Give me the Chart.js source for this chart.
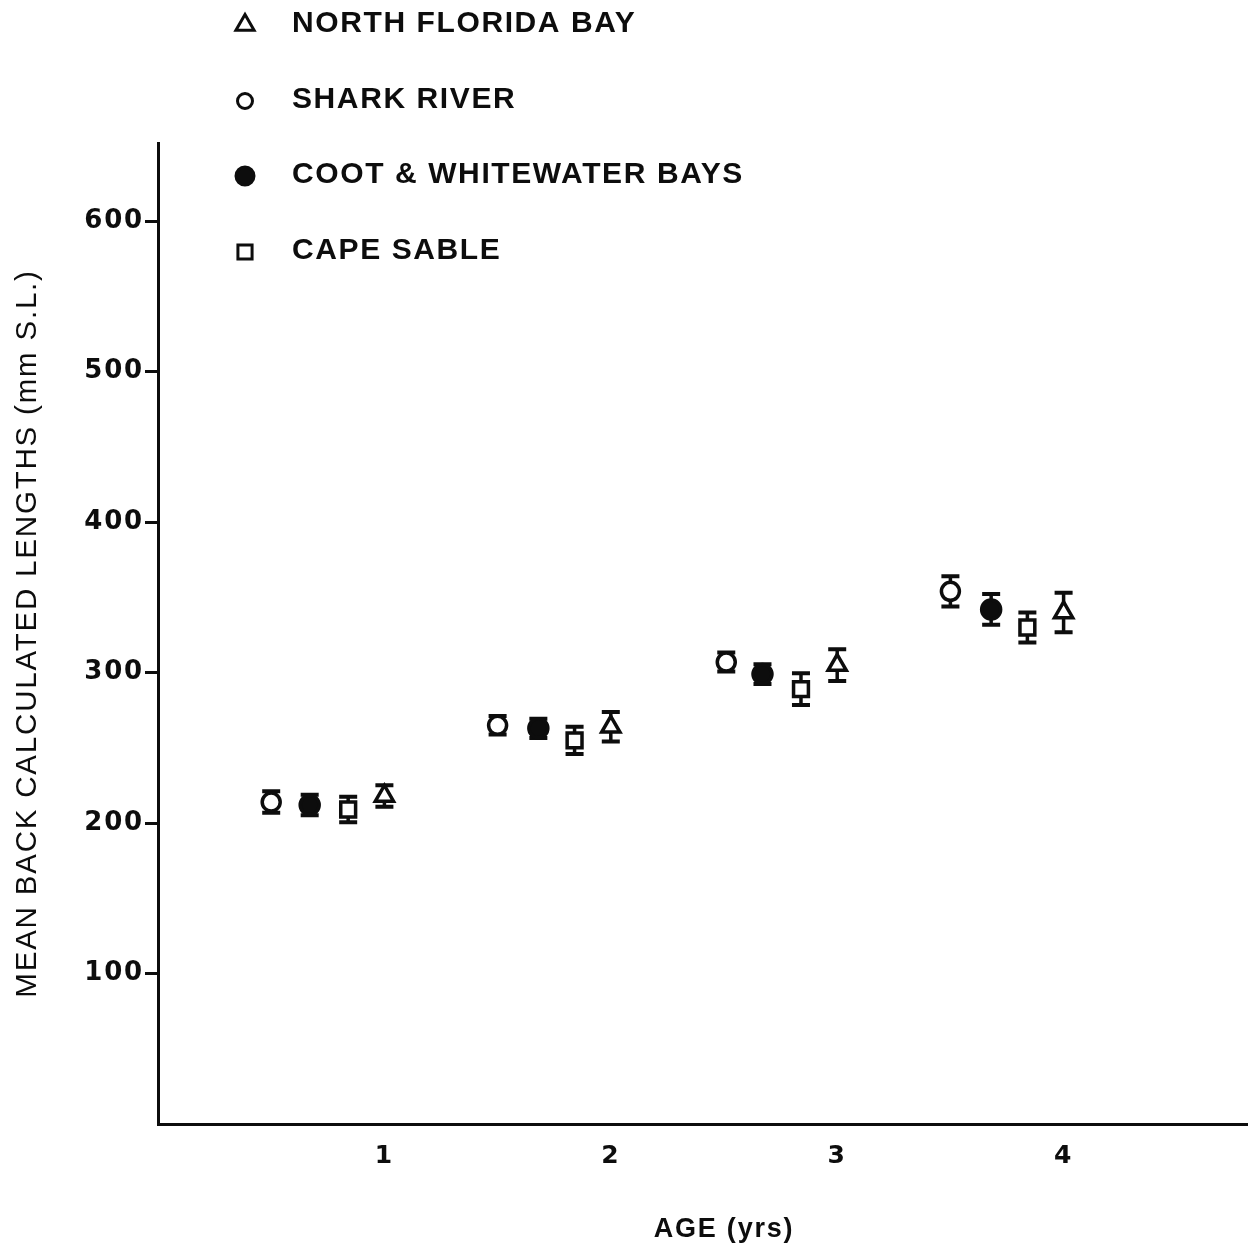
<!DOCTYPE html>
<html>
<head>
<meta charset="utf-8">
<script src="https://cdn.jsdelivr.net/npm/chart.js@4/dist/chart.umd.min.js"></script>
<style>
  html, body { margin: 0; padding: 0; background: #fff; overflow: hidden; }
  canvas { display: block; }
</style>
</head>
<body>
<canvas id="c" width="1304" height="1249"></canvas>
<script>
// Mean back-calculated standard lengths by age, four sampling areas
const ageTicks = [1, 2, 3, 4];

const sharkAge = [0.50, 1.50, 2.51, 3.50];
const sharkLen = [214, 265, 307, 354];
const sharkErr = [7.2, 6.1, 6.3, 10.0];

const cootAge = [0.67, 1.68, 2.67, 3.68];
const cootLen = [212, 263, 299, 342];
const cootErr = [6.8, 6.4, 6.5, 10.2];

const capeAge = [0.84, 1.84, 2.84, 3.84];
const capeLen = [209, 255, 289, 330];
const capeErr = [8.5, 9.1, 10.5, 10.0];

const nfbAge = [1.00, 2.00, 3.00, 4.00];
const nfbLen = [218, 264, 305, 340];
const nfbErr = [7.2, 9.8, 10.6, 13.1];

const INK = '#0d0d0d';

function pts(xs, ys) { return xs.map((x, i) => ({ x: x, y: ys[i] })); }

const datasets = [
  { label: 'NORTH FLORIDA BAY', data: pts(nfbAge, nfbLen), err: nfbErr,
    pointStyle: 'triangle', pointRadius: 10.5, backgroundColor: '#fff',
    legend: { radius: 10.5, y: 25 } },
  { label: 'SHARK RIVER', data: pts(sharkAge, sharkLen), err: sharkErr,
    pointStyle: 'circle', pointRadius: 9, backgroundColor: '#fff',
    legend: { radius: 7.5, y: 101 } },
  { label: 'COOT & WHITEWATER BAYS', data: pts(cootAge, cootLen), err: cootErr,
    pointStyle: 'circle', pointRadius: 9.5, backgroundColor: INK,
    legend: { radius: 9, y: 176 } },
  { label: 'CAPE SABLE', data: pts(capeAge, capeLen), err: capeErr,
    pointStyle: 'rect', pointRadius: 10.5, backgroundColor: '#fff',
    legend: { radius: 10, y: 252 } }
].map(d => Object.assign(d, {
  borderColor: INK, pointBorderWidth: 3.5, pointHoverRadius: d.pointRadius,
  pointBackgroundColor: d.backgroundColor, pointBorderColor: INK, showLine: false
}));

// Slightly spaced lettering throughout
const spacing = {
  id: 'spacing',
  beforeUpdate(chart) { chart.ctx.letterSpacing = '1.8px'; },
  beforeDraw(chart) { chart.ctx.letterSpacing = '1.8px'; }
};

// Vertical error bars with caps, drawn beneath the markers
const errorBars = {
  id: 'errorBars',
  beforeDatasetsDraw(chart) {
    const ctx = chart.ctx;
    const ys = chart.scales.y;
    ctx.save();
    ctx.strokeStyle = INK;
    chart.data.datasets.forEach((ds, i) => {
      const meta = chart.getDatasetMeta(i);
      meta.data.forEach((el, j) => {
        const v = ds.data[j].y, e = ds.err[j];
        const top = ys.getPixelForValue(v + e);
        const bot = ys.getPixelForValue(v - e);
        const x = el.x, half = 9;
        ctx.lineWidth = 3.5;
        ctx.beginPath();
        ctx.moveTo(x, top); ctx.lineTo(x, bot);
        ctx.stroke();
        ctx.lineWidth = 4;
        ctx.beginPath();
        ctx.moveTo(x - half, top); ctx.lineTo(x + half, top);
        ctx.moveTo(x - half, bot); ctx.lineTo(x + half, bot);
        ctx.stroke();
      });
    });
    ctx.restore();
  }
};

// Key in the upper left: symbol then area name
const keyBlock = {
  id: 'keyBlock',
  afterDraw(chart) {
    const ctx = chart.ctx;
    ctx.save();
    ctx.letterSpacing = '1.6px';
    ctx.font = 'bold 30px "Liberation Sans", Arial, sans-serif';
    ctx.textAlign = 'left';
    ctx.textBaseline = 'middle';
    chart.data.datasets.forEach(ds => {
      ctx.fillStyle = ds.backgroundColor;
      ctx.strokeStyle = INK;
      ctx.lineWidth = 3;
      Chart.helpers.drawPoint(ctx, {
        pointStyle: ds.pointStyle, radius: ds.legend.radius,
        borderWidth: 3, rotation: 0
      }, 245, ds.legend.y);
      ctx.fillStyle = INK;
      ctx.fillText(ds.label, 292, ds.legend.y - 1);
    });
    ctx.restore();
  }
};

new Chart(document.getElementById('c'), {
  type: 'scatter',
  data: { datasets: datasets },
  plugins: [spacing, errorBars, keyBlock],
  options: {
    responsive: false,
    animation: false,
    events: [],
    layout: { padding: { top: 143, right: 2, bottom: 0, left: 0 } },
    plugins: { legend: { display: false }, tooltip: { enabled: false } },
    scales: {
      x: {
        type: 'linear', min: 0, max: 5,
        afterFit(s) { s.height = 125; },
        afterBuildTicks(s) { s.ticks = ageTicks.map(v => ({ value: v })); },
        border: { display: true, color: INK, width: 3 },
        grid: { drawOnChartArea: false, drawTicks: false },
        ticks: { color: INK, padding: 17,
          font: { family: '"DejaVu Sans"', weight: 'bold', size: 25 } },
        title: { display: true, text: 'AGE (yrs)', color: INK,
          font: { family: '"Liberation Sans"', weight: 'bold', size: 27 },
          padding: { top: 0, bottom: 3 } }
      },
      y: {
        min: 0, max: 652,
        afterFit(s) { s.width = 158; },
        afterBuildTicks(s) { s.ticks = [100, 200, 300, 400, 500, 600].map(v => ({ value: v })); },
        border: { display: true, color: INK, width: 3 },
        grid: { drawOnChartArea: false, drawTicks: true, tickLength: 13,
          tickWidth: 3, tickColor: INK },
        ticks: { color: INK, padding: 1,
          font: { family: '"DejaVu Sans"', weight: 'bold', size: 26 } },
        title: { display: true, text: 'MEAN BACK CALCULATED LENGTHS (mm S.L.)',
          color: INK, font: { family: '"Liberation Sans"', size: 29.5 },
          padding: { top: 10, bottom: 0 } }
      }
    }
  }
});
</script>
</body>
</html>
